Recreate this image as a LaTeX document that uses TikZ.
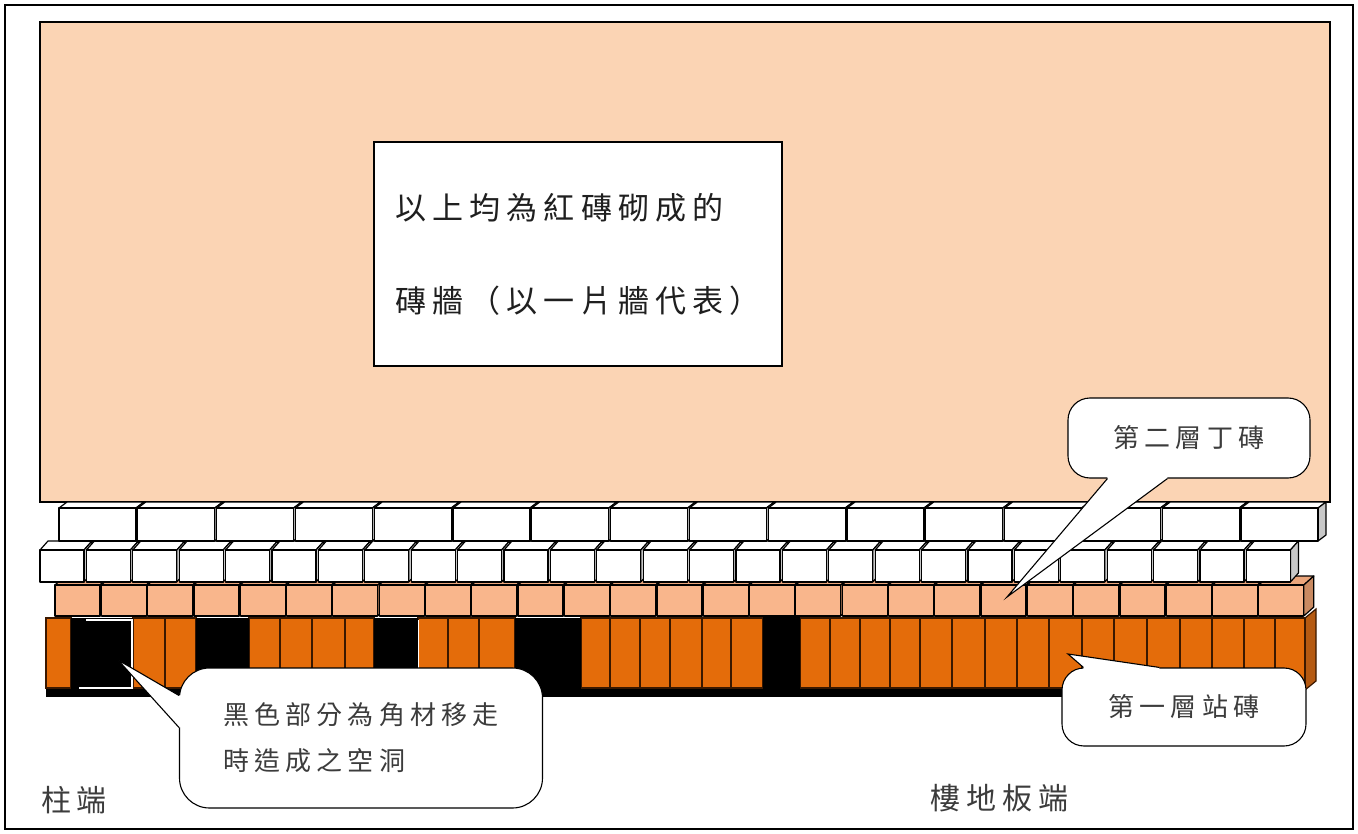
\documentclass[tikz,border=0pt]{standalone}
\usepackage{fontspec}
\newfontfamily\cjk[LetterSpace=20]{Noto Sans CJK TC}
\usetikzlibrary{calc}

\definecolor{wallpeach}{HTML}{FBD4B4}
\definecolor{headerbrick}{HTML}{F9B68C}
\definecolor{headertop}{HTML}{EBA67C}
\definecolor{headerside}{HTML}{C98A62}
\definecolor{standbrick}{HTML}{E46C0A}
\definecolor{standedge}{HTML}{3A1800}
\definecolor{standside}{HTML}{B55A12}
\definecolor{whiteside}{HTML}{C8C8C8}
\definecolor{notetext}{HTML}{3C3C3C}

% a brick seen slightly from above and from the right:
% #1 x, #2 y (top of front face), #3 width, #4 height, #5 dx, #6 dy,
% #7 front colour, #8 top colour, #9 side colour
\newcommand\solidbrick[9]{%
  \filldraw[fill=#8] (#1,#2) -- ++(#5,-#6) -- ++(#3,0) -- ++(-#5,#6) -- cycle;
  \filldraw[fill=#9] (#1+#3,#2) -- ++(#5,-#6) -- ++(0,#4) -- ++(-#5,#6) -- cycle;
  \filldraw[fill=#7] (#1,#2) rectangle ++(#3,#4);
}

\tikzset{
  brickline/.style={draw=black, line width=1.2pt, line join=round},
  standing/.style={fill=standbrick, draw=standedge, line width=1.2pt},
  notebox/.style={draw=black, fill=white, line width=1.1pt, inner sep=0pt,
    align=left, text=black!88, font=\cjk\fontsize{31}{93}\selectfont},
  calloutbox/.style={draw=black, fill=white, line width=1.1pt, inner sep=0pt,
    rounded corners=22pt, align=left, text=notetext,
    font=\cjk\fontsize{26}{46}\selectfont},
  pointerline/.style={draw=black, line width=1.1pt, line join=miter},
  endlabel/.style={inner sep=0pt, text=notetext, font=\cjk\fontsize{30}{36}\selectfont},
}

\begin{document}
\begin{tikzpicture}[x=1pt, y=-1pt]
\useasboundingbox (0,0) rectangle (1358,834);
\fill[white] (0,0) rectangle (1358,834);
\draw[line width=1.2pt] (5,5) rectangle (1353,829);

% brick wall above, shown as one flat panel
\filldraw[fill=wallpeach, draw=black, line width=1.2pt] (40,22) rectangle (1330,502);

% first course: standing bricks, with the holes left by the timber
\fill[black] (46,688) rectangle (1305,697);
\filldraw[fill=standside, draw=standedge, line width=1.2pt]
  (1305,618) -- (1316,609) -- (1316,681) -- (1305,690) -- cycle;
\foreach \a/\b in {46/71, 133/165, 165/196, 249/280, 280/312, 312/345, 345/374,
    418/448, 448/479, 479/515, 581/610, 610/640, 640/670, 670/702, 702/731,
    731/763, 800/830, 830/860, 860/890, 890/920, 920/952, 952/985, 985/1017,
    1017/1049, 1049/1082, 1082/1114, 1114/1147, 1147/1180, 1180/1212,
    1212/1244, 1244/1275, 1275/1305}
  {\filldraw[standing] (\a,618) rectangle (\b,688);}
\fill[black] (71,618) rectangle (133,690);
\draw[white, line width=1.5pt] (86,620) -- (132,620) -- (132,688) -- (79,688);
\fill[black] (196,618) rectangle (249,690);
\fill[black] (374,618) rectangle (418,690);
\draw[white, line width=1pt] (418,620) -- (418,688);
\fill[black] (515,618) rectangle (581,697);
\fill[black] (763,616) rectangle (800,697);

% second course: header bricks
\begin{scope}[brickline]
\foreach \i in {0,...,26} {
  \pgfmathsetmacro\bx{55+46.3*\i}
  \solidbrick{\bx}{585}{45}{31}{10}{9}{headerbrick}{headertop}{headerside}
}
% white bricks above
\foreach \i in {0,...,26} {
  \pgfmathsetmacro\bx{40+46.4*\i}
  \solidbrick{\bx}{550}{44}{32}{8}{9}{white}{white}{whiteside}
}
\foreach \i in {0,...,15} {
  \pgfmathsetmacro\bx{59+78.8*\i}
  \solidbrick{\bx}{508}{77}{33}{8}{6}{white}{white}{whiteside}
}
\end{scope}

% note on the wall
\node[notebox, minimum width=408pt, minimum height=224pt] (wallnote) at (578,254)
  {以上均為紅磚砌成的\\磚牆（以一片牆代表）};

% callout: second course
\node[calloutbox, minimum width=242pt, minimum height=80pt] (headernote) at (1189,438) {第二層丁磚};
\coordinate (headertip) at (1007,597);
\coordinate (hb1) at ($(headernote.south west)+(40,0)$);
\coordinate (hb2) at ($(headernote.south west)+(100,0)$);
\fill[white] (headertip) -- (hb1) -- ($(hb1)+(0,-3)$) -- ($(hb2)+(0,-3)$) -- (hb2) -- cycle;
\draw[pointerline] (hb1) -- (headertip) -- (hb2);

% callout: first course
\node[calloutbox, minimum width=244pt, minimum height=78pt] (standnote) at (1184,707) {第一層站磚};
\coordinate (standtip) at (1068,654);
\coordinate (sb1) at ($(standnote.north west)+(22,0)$);
\coordinate (sb2) at ($(standnote.north west)+(98,0)$);
\fill[white] (standtip) -- (sb1) -- ($(sb1)+(0,3)$) -- ($(sb2)+(0,3)$) -- (sb2) -- cycle;
\draw[pointerline] (sb1) -- (standtip) -- (sb2);

% callout: holes
\node[calloutbox, rounded corners=30pt, minimum width=363pt, minimum height=140pt] (holenote) at (361,738)
  {黑色部分為角材移走\\時造成之空洞};
\coordinate (holetip) at (118,660);
\coordinate (ob1) at ($(holenote.north west)+(0,28)$);
\coordinate (ob2) at ($(holenote.north west)+(0,60)$);
\fill[white] (holetip) -- (ob1) -- ($(ob1)+(3,0)$) -- ($(ob2)+(3,0)$) -- (ob2) -- cycle;
\draw[pointerline] (ob1) -- (holetip) -- (ob2);

% end labels
\node[endlabel] (columnend) at (74,800) {柱端};
\node[endlabel] (floorend) at (999,798) {樓地板端};
\end{tikzpicture}
\end{document}
